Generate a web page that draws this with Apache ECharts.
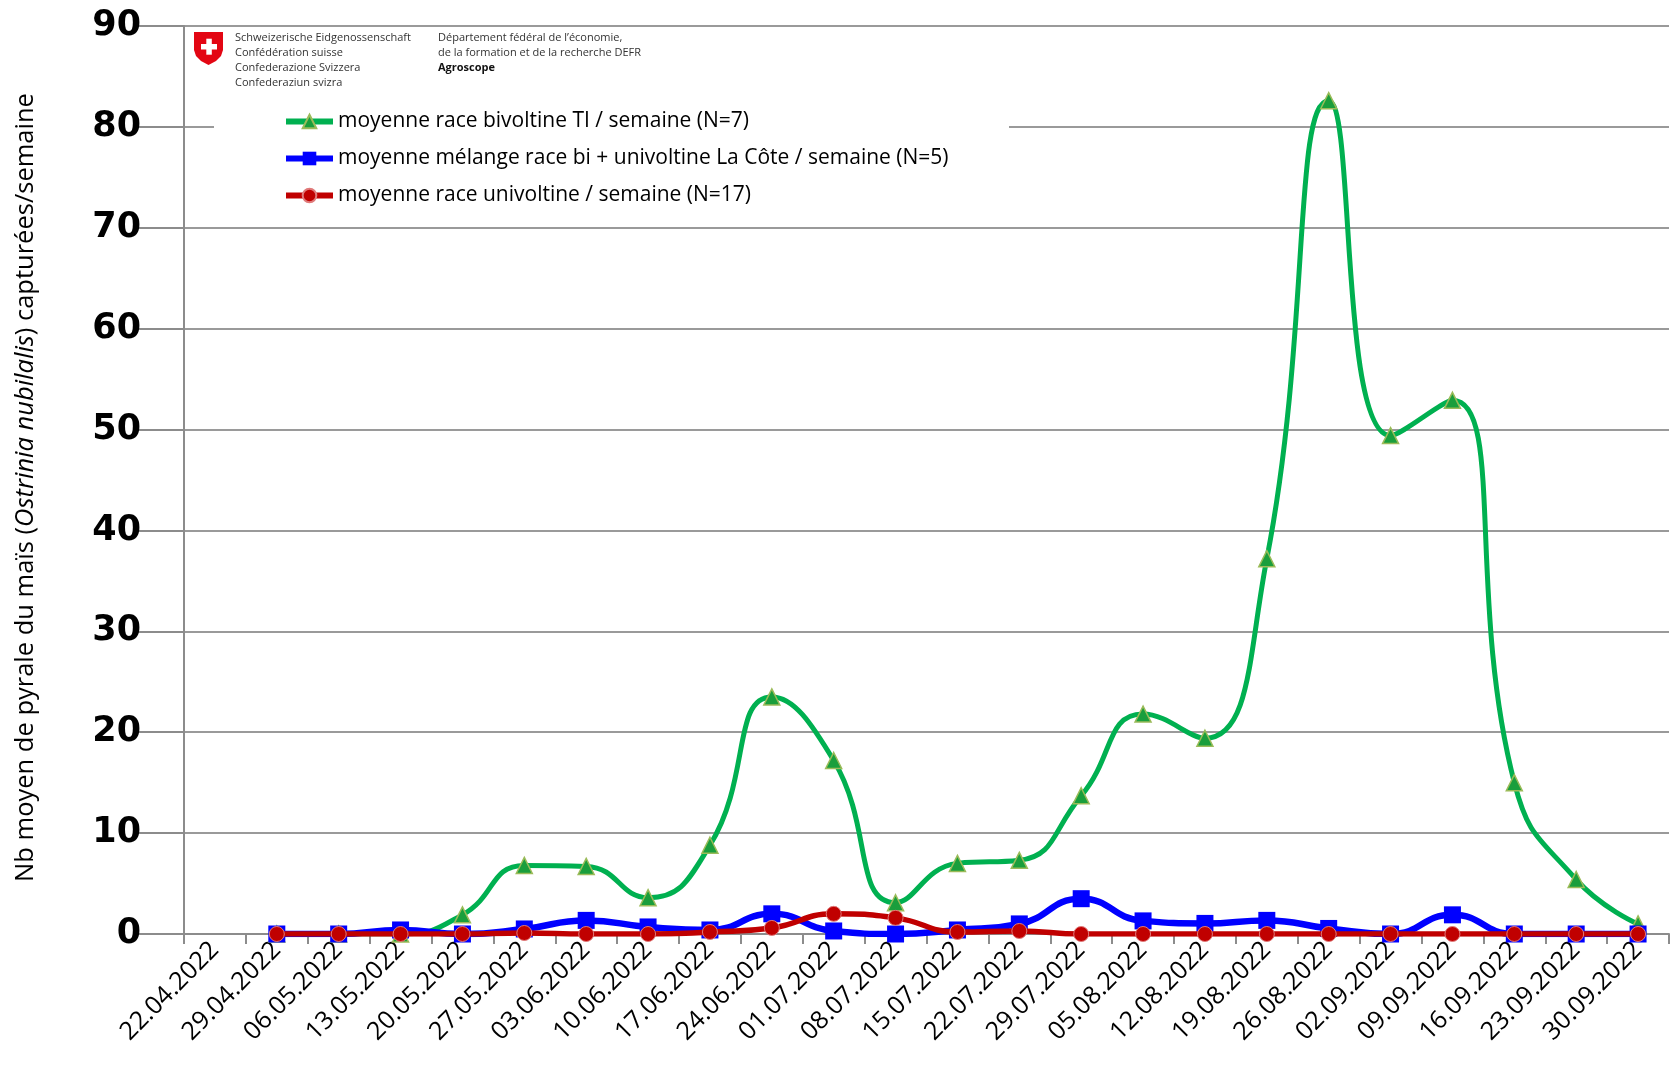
<!DOCTYPE html>
<html>
<head>
<meta charset="utf-8">
<title>Pyrale du maïs 2022</title>
<script src="https://cdn.jsdelivr.net/npm/echarts@6/dist/echarts.min.js"></script>
<style>
	html, body { margin: 0; padding: 0; background: #fff; }
	#lineChart { width: 1675px; height: 1070px; }
</style>
</head>
<body>
<div id="lineChart"></div>
<script>
// dates des relevés (semaines)
var weeks = ['22.04.2022', '29.04.2022', '06.05.2022', '13.05.2022', '20.05.2022', '27.05.2022',
	'03.06.2022', '10.06.2022', '17.06.2022', '24.06.2022', '01.07.2022', '08.07.2022',
	'15.07.2022', '22.07.2022', '29.07.2022', '05.08.2022', '12.08.2022', '19.08.2022',
	'26.08.2022', '02.09.2022', '09.09.2022', '16.09.2022', '23.09.2022', '30.09.2022'];

// moyenne race bivoltine TI (N=7)
var bivoltine = [null, 0, 0, 0, 1.9, 6.8, 6.7, 3.6, 8.8, 23.5, 17.2, 3.1,
	7.0, 7.3, 13.7, 21.8, 19.4, 37.2, 82.6, 49.4, 52.9, 15.0, 5.4, 1.0];

// moyenne mélange bi + univoltine La Côte (N=5)
var melange = [null, 0, 0, 0.4, 0, 0.5, 1.35, 0.7, 0.4, 2.0, 0.3, 0,
	0.4, 1.0, 3.5, 1.3, 1.05, 1.35, 0.55, 0, 1.9, 0, 0, 0];

// moyenne race univoltine (N=17)
var univoltine = [null, 0, 0, 0, 0, 0.1, 0, 0, 0.2, 0.6, 2.0, 1.6,
	0.2, 0.3, 0, 0, 0, 0, 0, 0, 0, 0, 0, 0];

var seriesNames = ['moyenne race bivoltine TI / semaine (N=7)',
	'moyenne mélange race bi + univoltine La Côte / semaine (N=5)',
	'moyenne race univoltine / semaine (N=17)'];

var yTicks = { min: 0, max: 90, interval: 10 };

var txtFont = '"Open Sans", "Noto Sans", sans-serif';
var logoFont = { fill: '#333', fontFamily: txtFont, fontSize: 11, verticalAlign: 'middle' };

function logoText(x, y, t, bold) {
	var st = { text: t };
	for (var k in logoFont) st[k] = logoFont[k];
	if (bold) {
		st.fontWeight = 'bold';
		st.fill = '#111';
	}
	return { type: 'text', z: 6, x: x, y: y, style: st };
}

var option = {
	animation: false,
	backgroundColor: '#ffffff',
	grid: {
		left: 184,
		right: 6,
		top: 26,
		bottom: 136,
		outerBoundsMode: 'none'
	},
	legend: {
		orient: 'vertical',
		left: 278,
		top: 106,
		itemWidth: 47,
		itemHeight: 17,
		itemGap: 16,
		data: seriesNames,
		lineStyle: { width: 6 },
		textStyle: {
			fontFamily: txtFont,
			fontSize: 21,
			color: '#000'
		}
	},
	xAxis: [{
		type: 'category',
		data: weeks,
		boundaryGap: true,
		axisLine: { lineStyle: { color: '#8c8c8c', width: 2 } },
		axisTick: { show: true, length: 10, lineStyle: { color: '#8c8c8c', width: 2 } },
		axisLabel: {
			rotate: 45,
			interval: 0,
			margin: 12,
			fontFamily: txtFont,
			fontSize: 25,
			color: '#000'
		}
	}],
	yAxis: [{
		type: 'value',
		min: yTicks.min,
		max: yTicks.max,
		interval: yTicks.interval,
		name: 'Nb moyen de pyrale du maïs ({i|Ostrinia nubilalis}) capturées/semaine',
		nameLocation: 'middle',
		nameRotate: 90,
		nameGap: 145,
		nameTextStyle: {
			fontFamily: txtFont,
			fontSize: 25.5,
			color: '#000',
			padding: [0, 15, 0, 0],
			rich: {
				i: { fontFamily: txtFont, fontSize: 25.5, fontStyle: 'italic', color: '#000' }
			}
		},
		axisLine: { show: true, lineStyle: { color: '#8c8c8c', width: 2 } },
		axisTick: { show: true, inside: false, length: 47, lineStyle: { color: '#8c8c8c', width: 2 } },
		splitLine: { show: true, lineStyle: { color: '#9a9a9a', width: 2 } },
		axisLabel: {
			margin: 43,
			fontFamily: '"DejaVu Sans", sans-serif',
			fontWeight: 'bold',
			fontSize: 35,
			color: '#000'
		}
	}],
	graphic: [
		// fond blanc de la légende (coupe la ligne des 80)
		{ type: 'rect', z: 3, shape: { x: 214, y: 96, width: 795, height: 112 }, style: { fill: '#ffffff' } },
		// logo Confédération
		{ type: 'polygon', z: 5, shape: { points: [[194, 32], [223, 32], [223, 50], [221, 56], [216, 61], [208.5, 65], [201, 61], [196, 56], [194, 50]] }, style: { fill: '#e30613' } },
		{ type: 'rect', z: 6, shape: { x: 201, y: 44, width: 16, height: 5.5 }, style: { fill: '#ffffff' } },
		{ type: 'rect', z: 6, shape: { x: 206.3, y: 38.7, width: 5.5, height: 16 }, style: { fill: '#ffffff' } },
		logoText(235, 37.5, 'Schweizerische Eidgenossenschaft'),
		logoText(235, 52.5, 'Confédération suisse'),
		logoText(235, 67.5, 'Confederazione Svizzera'),
		logoText(235, 82.5, 'Confederaziun svizra'),
		logoText(438, 37.5, 'Département fédéral de l’économie,'),
		logoText(438, 52.5, 'de la formation et de la recherche DEFR'),
		logoText(438, 67.5, 'Agroscope', true)
	],
	series: [{
		name: seriesNames[0],
		type: 'line',
		smooth: 0.5,
		data: bivoltine,
		symbol: 'triangle',
		symbolSize: 16,
		lineStyle: { color: '#00b050', width: 5 },
		itemStyle: { color: '#1a9e3c', borderColor: '#9bbb59', borderWidth: 1.5 },
		z: 2
	}, {
		name: seriesNames[1],
		type: 'line',
		smooth: 0.5,
		data: melange,
		symbol: 'rect',
		symbolSize: 17,
		lineStyle: { color: '#0000ff', width: 6.5 },
		itemStyle: { color: '#0000ff', borderColor: '#0000ff', borderWidth: 0 },
		z: 3
	}, {
		name: seriesNames[2],
		type: 'line',
		smooth: 0.5,
		data: univoltine,
		symbol: 'circle',
		symbolSize: 15,
		lineStyle: { color: '#c00000', width: 5.5 },
		itemStyle: { color: '#c00000', borderColor: '#e07a7a', borderWidth: 1 },
		z: 4
	}]
};

var lineChart = echarts.init(document.getElementById('lineChart'));
lineChart.setOption(option);
</script>
</body>
</html>
